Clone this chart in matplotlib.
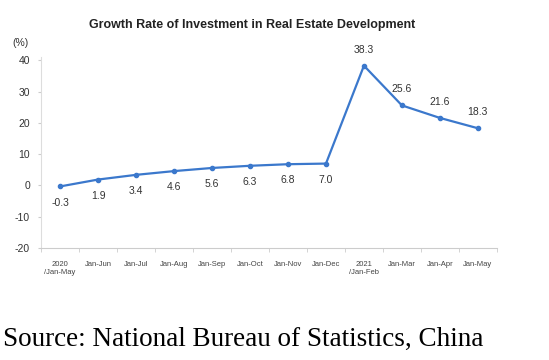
import matplotlib
matplotlib.use('Agg')
import matplotlib.pyplot as plt

labels = ['2020\n/Jan-May', 'Jan-Jun', 'Jan-Jul', 'Jan-Aug', 'Jan-Sep', 'Jan-Oct',
          'Jan-Nov', 'Jan-Dec', '2021\n/Jan-Feb', 'Jan-Mar', 'Jan-Apr', 'Jan-May']
growth = [-0.3, 1.9, 3.4, 4.6, 5.6, 6.3, 6.8, 7.0, 38.3, 25.6, 21.6, 18.3]
yticks = [-20, -10, 0, 10, 20, 30, 40]

plt.rcParams['font.family'] = ['Liberation Sans', 'DejaVu Sans']
fig = plt.figure(figsize=(5.49, 3.6), dpi=100)
ax = fig.add_axes([0.075, 0.311, 0.83, 0.53])

x = list(range(len(growth)))
ax.plot(x, growth, color='#3b78cc', lw=1.6, marker='o', ms=3)

for i, v in enumerate(growth):
    if i < 8:
        ax.annotate(f'{v:.1f}', (i, v), xytext=(0, -8), textcoords='offset points',
                    ha='center', va='top', fontsize=7.5, color='#333333')
    else:
        ax.annotate(f'{v:.1f}', (i, v), xytext=(0, 8), textcoords='offset points',
                    ha='center', va='bottom', fontsize=7.5, color='#333333')

for s in ['top', 'right']:
    ax.spines[s].set_visible(False)
ax.spines['left'].set_color('#dddddd')
ax.spines['bottom'].set_color('#cccccc')

ax.set_xlim(-0.5, len(growth) - 0.5)
ax.set_ylim(-20, 41)
ax.set_yticks(yticks)
ax.set_yticklabels([str(t) for t in yticks], fontsize=7.5, color='#333333')
ax.set_xticks(x)
ax.set_xticklabels(labels, fontsize=5.5, color='#444444', linespacing=1.35)
ax.set_xticks([i - 0.5 for i in range(len(growth) + 1)], minor=True)
ax.tick_params(axis='x', which='major', length=0, pad=9)
ax.tick_params(axis='x', which='minor', length=3, color='#cccccc')
ax.tick_params(axis='y', length=2, color='#cccccc', pad=6)

fig.text(0.459, 0.93, 'Growth Rate of Investment in Real Estate Development',
         ha='center', va='center', fontsize=9, fontweight='bold', color='#222222')
fig.text(0.038, 0.88, '(%)', ha='center', va='center', fontsize=7.5, color='#333333')
fig.text(0.005, 0.058, 'Source: National Bureau of Statistics, China',
         ha='left', va='center', fontsize=19.5, family='Liberation Serif', color='black')

fig.savefig('out.png', dpi=100, facecolor='white')
